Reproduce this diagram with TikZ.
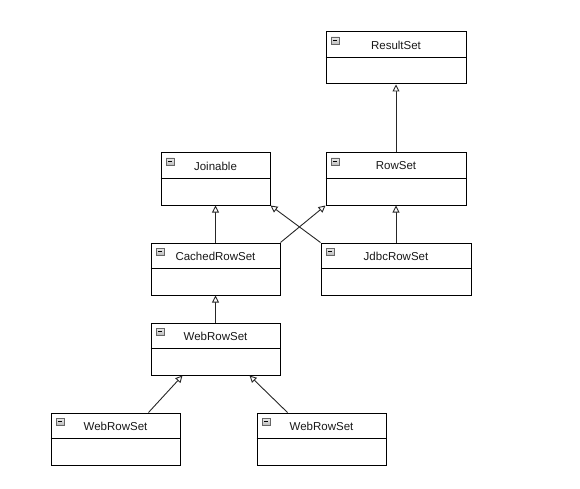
\documentclass[tikz,border=0pt]{standalone}
\usepackage{fontspec}
\setmainfont{Liberation Sans}
\usetikzlibrary{arrows.meta,calc}
\tikzset{
  cls/.style={draw=black, line width=1pt, fill=white, inner sep=0pt},
  gen/.style={draw=black!85, line width=0.9pt, -{Triangle[fill=white, length=7pt, width=7pt, line width=0.9pt]}},
  lbl/.style={font=\fontsize{11.5}{13}\selectfont, text=black!90, inner sep=0pt},
}
% \umlbox{name}{x1}{y1}{x2}{y2}{title}
\newcommand{\umlbox}[6]{%
  \node[cls, minimum width={#4-#2}, minimum height={#5-#3}] (#1) at ({(#2+#4)/2},{(#3+#5)/2}) {};
  \draw[line width=1pt] ($(#1.north west)+(0,26)$) -- ($(#1.north east)+(0,26)$);
  \node[lbl] (#1-t) at ($(#1.north)+(0,13.5)$) {#6};
  \draw[draw=gray!80!black, line width=0.7pt, top color=gray!15, bottom color=gray!55]
    ($(#1.north west)+(5.5,5.5)$) rectangle ($(#1.north west)+(13.5,13)$);
  \draw[line width=1.2pt] ($(#1.north west)+(7.3,9.3)$) -- ($(#1.north west)+(11.7,9.3)$);
}
\begin{document}
\begin{tikzpicture}[x=1pt,y=-1pt]
\useasboundingbox (0,0) rectangle (580,489);
\umlbox{rs}{326}{32}{466}{84}{ResultSet}
\umlbox{jn}{161}{153}{270}{205}{Joinable}
\umlbox{rw}{326}{153}{466}{205}{RowSet}
\umlbox{cr}{151}{243}{280}{295}{CachedRowSet}
\umlbox{jd}{321}{243}{471}{295}{JdbcRowSet}
\umlbox{wr}{151}{323}{280}{375}{WebRowSet}
\umlbox{wa}{51}{413}{180}{465}{WebRowSet}
\umlbox{wb}{257}{413}{386}{465}{WebRowSet}
\draw[gen] (rw.north) -- (rs.south);
\draw[gen] (cr.north) -- (jn.south);
\draw[gen] (jd.north) -- (rw.south);
\draw[gen] (cr.north east) -- (rw.south west);
\draw[gen] (jd.north west) -- (jn.south east);
\draw[gen] (wr.north) -- (cr.south);
\draw[gen] ($(wa.north east)+(-32,0)$) -- ($(wr.south west)+(32,0)$);
\draw[gen] ($(wb.north west)+(31,0)$) -- ($(wr.south east)+(-31,0)$);
\end{tikzpicture}
\end{document}
